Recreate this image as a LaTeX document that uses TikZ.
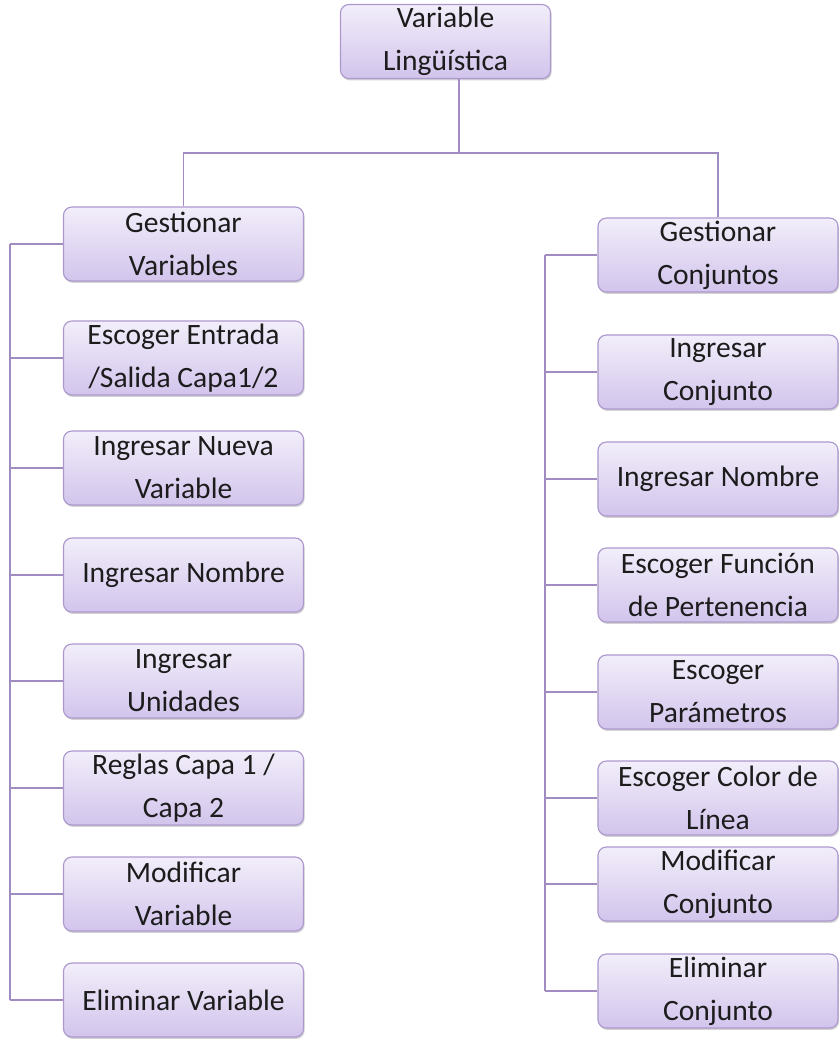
\documentclass[tikz,border=0pt]{standalone}
\usepackage{fontspec}
\setmainfont{Carlito}
\usepackage{xcolor}
\usepackage{tikz}
\definecolor{boxtop}{RGB}{242,238,250}
\definecolor{boxbot}{RGB}{210,196,236}
\definecolor{boxedge}{RGB}{172,152,204}
\definecolor{linkcol}{RGB}{160,140,192}
\definecolor{txtcol}{RGB}{28,28,28}
\usetikzlibrary{shadows, calc}

\begin{document}
\begin{tikzpicture}[
    x=0.025cm, y=-0.025cm,
    box/.style={rectangle, rounded corners=6pt, draw=boxedge, line width=0.8pt,
                top color=boxtop, bottom color=boxbot,
                drop shadow={shadow xshift=0.8pt, shadow yshift=-1.4pt, opacity=0.35},
                minimum width=6.0cm, minimum height=1.85cm, inner sep=1pt,
                align=center, text=txtcol, font=\fontsize{21}{30.5}\selectfont},
    link/.style={draw=linkcol, line width=1.3pt}
]
    \useasboundingbox (0,0) rectangle (840,1040);

    % top
    \node[box, minimum width=5.25cm] (root) at (445.5,41.5) {Variable\\Lingüística};
    \coordinate (junc) at (459,153);

    % left column
    \node[box] (gvar)  at (183.5,244)  {Gestionar\\Variables};
    \node[box] (esal)  at (183.5,358)  {Escoger Entrada\\/Salida Capa1/2};
    \node[box] (nvar)  at (183.5,468)  {Ingresar Nueva\\Variable};
    \node[box] (nomv)  at (183.5,575)  {Ingresar Nombre};
    \node[box] (unid)  at (183.5,681)  {Ingresar\\Unidades};
    \node[box] (regl)  at (183.5,788)  {Reglas Capa 1 /\\Capa 2};
    \node[box] (modv)  at (183.5,894)  {Modificar\\Variable};
    \node[box] (elimv) at (183.5,1000) {Eliminar Variable};

    % right column
    \node[box] (gconj) at (718,255) {Gestionar\\Conjuntos};
    \node[box] (ncon)  at (718,372) {Ingresar\\Conjunto};
    \node[box] (nomc)  at (718,479) {Ingresar Nombre};
    \node[box] (func)  at (718,585) {Escoger Función\\de Pertenencia};
    \node[box] (param) at (718,692) {Escoger\\Parámetros};
    \node[box] (color) at (718,798) {Escoger Color de\\Línea};
    \node[box] (modc)  at (718,884) {Modificar\\Conjunto};
    \node[box] (elimc) at (718,991) {Eliminar\\Conjunto};

    \coordinate (lsp) at (10,0);
    \coordinate (rsp) at (545,0);

    % connectors
    \draw[link] (junc |- root.south) -- (junc);
    \draw[link] (gvar.north) |- (junc) -| (gconj.north);
    \draw[link] (gvar.west -| lsp) -- (elimv.west -| lsp);
    \draw[link] (gconj.west -| rsp) -- (elimc.west -| rsp);
    \foreach \n in {gvar,esal,nvar,nomv,unid,regl,modv,elimv}
        \draw[link] (\n.west) -- (\n.west -| lsp);
    \foreach \n in {gconj,ncon,nomc,func,param,color,modc,elimc}
        \draw[link] (\n.west) -- (\n.west -| rsp);
\end{tikzpicture}
\end{document}
